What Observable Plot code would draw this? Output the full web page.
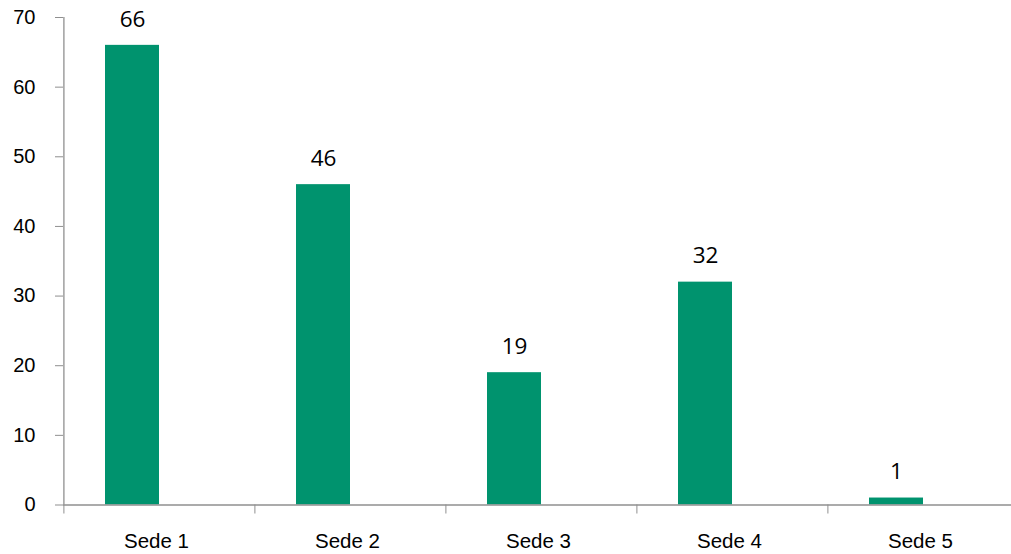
<!DOCTYPE html>
<html>
<head>
<meta charset="utf-8">
<script src="https://cdn.jsdelivr.net/npm/d3@7"></script>
<script src="https://cdn.jsdelivr.net/npm/@observablehq/plot@0.6"></script>
<style>
  html, body { margin: 0; padding: 0; background: #fff; overflow: hidden; }
  svg { display: block; }
</style>
</head>
<body>
<div id="chart"></div>
<script>
const categories = ["Sede 1", "Sede 2", "Sede 3", "Sede 4", "Sede 5"];
const values = [66, 46, 19, 32, 1];
const yTicks = [0, 10, 20, 30, 40, 50, 60, 70];

const data = categories.map((c, i) => ({category: c, value: values[i]}));

const W = 1011, H = 554;
const left = 63, right = 1019;
const step = (right - left) / categories.length;
const barShift = -27;
const axisColor = "#8f8f8f";
const barColor = "#00936e";

const chart = Plot.plot({
  width: W,
  height: H,
  marginLeft: left,
  marginRight: W - right,
  marginTop: 17,
  marginBottom: 49.5,
  style: {background: "#fff", overflow: "hidden"},
  x: {domain: categories, range: [left, right], paddingInner: 0.717, paddingOuter: 0.3585, align: 0.5, label: null},
  y: {domain: [0, 70], label: null},
  marks: [
    Plot.barY(data, {x: "category", y: "value", fill: barColor, dx: barShift}),
    Plot.text(data, {x: "category", y: "value", text: d => String(d.value), dy: -26, dx: barShift,
      fontFamily: "'Open Sans', sans-serif", fontSize: 22.5, fill: "#000"}),
    Plot.ruleY([0], {stroke: axisColor, strokeWidth: 1.3}),
    Plot.ruleX([categories[0]], {x: d => d, y1: 0, y2: 70, dx: -step / 2, stroke: axisColor, strokeWidth: 1.3}),
    Plot.axisY({ticks: yTicks, tickSize: 8, tickPadding: 20, stroke: axisColor, fill: "#000",
      fontFamily: "'Liberation Sans', Arial, sans-serif", fontSize: 20, label: null}),
    Plot.axisX({tickSize: 9, dx: -step / 2, tickFormat: () => "", stroke: axisColor, label: null}),
    Plot.axisX({tickSize: 0, tickPadding: 28, dx: -3, fill: "#000",
      fontFamily: "'Liberation Sans', Arial, sans-serif", fontSize: 20.5, label: null})
  ]
});
document.getElementById("chart").appendChild(chart);
</script>
</body>
</html>
